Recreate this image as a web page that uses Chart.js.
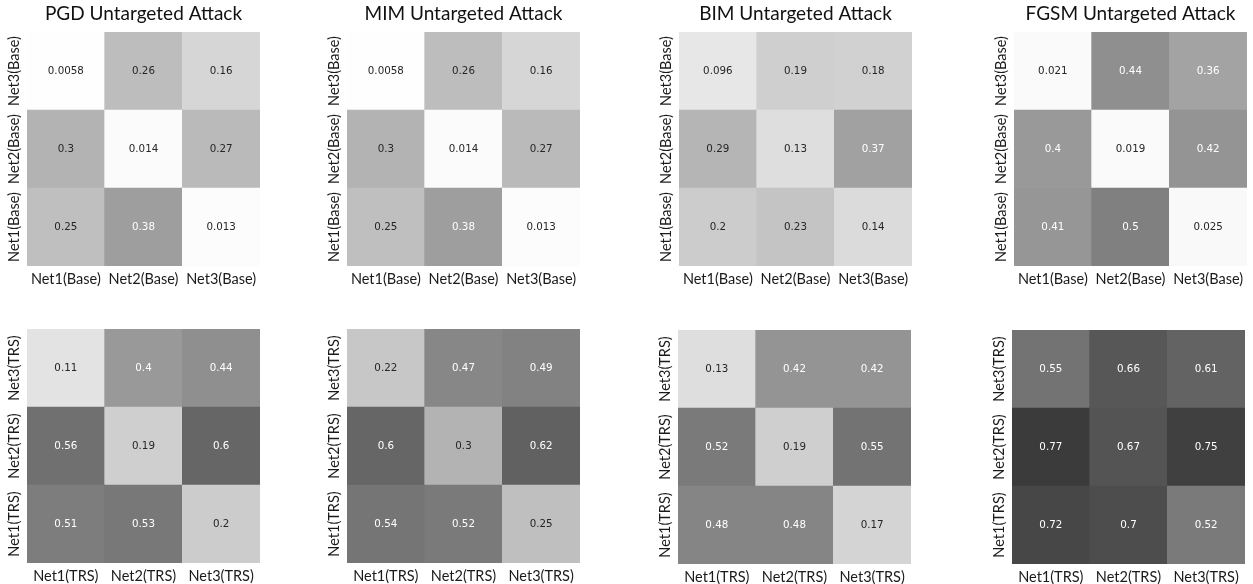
<!DOCTYPE html>
<html>
<head>
<meta charset="utf-8">
<script src="https://cdn.jsdelivr.net/npm/chart.js@4.4.1/dist/chart.umd.min.js"></script>
<style>
  html, body { margin: 0; padding: 0; background: #ffffff; }
  body { width: 1253px; height: 584px; overflow: hidden; position: relative; }
  canvas { position: absolute; }
</style>
</head>
<body>
<script>
// Transfer rates between networks; matrix[i][j] = row Net(i+1), column Net(j+1)
const baseLabels = ['Net1(Base)', 'Net2(Base)', 'Net3(Base)'];
const trsLabels = ['Net1(TRS)', 'Net2(TRS)', 'Net3(TRS)'];
const attackTitles = ['PGD Untargeted Attack', 'MIM Untargeted Attack', 'BIM Untargeted Attack', 'FGSM Untargeted Attack'];

const pgdBase = [[0.25, 0.38, 0.013], [0.3, 0.014, 0.27], [0.0058, 0.26, 0.16]];
const pgdTrs  = [[0.51, 0.53, 0.2], [0.56, 0.19, 0.6], [0.11, 0.4, 0.44]];
const mimBase = [[0.25, 0.38, 0.013], [0.3, 0.014, 0.27], [0.0058, 0.26, 0.16]];
const mimTrs  = [[0.54, 0.52, 0.25], [0.6, 0.3, 0.62], [0.22, 0.47, 0.49]];
const bimBase = [[0.2, 0.23, 0.14], [0.29, 0.13, 0.37], [0.096, 0.19, 0.18]];
const bimTrs  = [[0.48, 0.48, 0.17], [0.52, 0.19, 0.55], [0.13, 0.42, 0.42]];
const fgsmBase = [[0.41, 0.5, 0.025], [0.4, 0.019, 0.42], [0.021, 0.44, 0.36]];
const fgsmTrs  = [[0.72, 0.7, 0.52], [0.77, 0.67, 0.75], [0.55, 0.66, 0.61]];

// Page layout: top-left corner of each heatmap area
const CELL_W = 233, CELL_H = 234;
const AXIS_W = 40, TITLE_H = 32, XAXIS_H = 36;
const panels = [
  { title: attackTitles[0], labels: baseLabels, values: pgdBase,  left: 27,   top: 32 },
  { title: attackTitles[1], labels: baseLabels, values: mimBase,  left: 347,  top: 32 },
  { title: attackTitles[2], labels: baseLabels, values: bimBase,  left: 679,  top: 32 },
  { title: attackTitles[3], labels: baseLabels, values: fgsmBase, left: 1014, top: 32 },
  { title: null, labels: trsLabels, values: pgdTrs,  left: 27,   top: 329 },
  { title: null, labels: trsLabels, values: mimTrs,  left: 347,  top: 329 },
  { title: null, labels: trsLabels, values: bimTrs,  left: 678,  top: 330 },
  { title: null, labels: trsLabels, values: fgsmTrs, left: 1012, top: 330 }
];

const LABEL_FONT = 'Lato, "Open Sans", sans-serif';
const ANNOT_FONT = '"DejaVu Sans", sans-serif';

// Reversed grey map on [0, 1]
function greyOf(v) {
  const g = Math.round(255 * (1 - Math.max(0, Math.min(1, v))));
  return { g, css: `rgb(${g},${g},${g})` };
}
function textColorFor(v) {
  const c = greyOf(v).g / 255;
  const lin = c <= 0.03928 ? c / 12.92 : Math.pow((c + 0.055) / 1.055, 2.4);
  return lin > 0.408 ? '#262626' : '#ffffff';
}
function fmt(v) { return String(Number(v.toPrecision(2))); }

// Title, rotated row labels and cell annotations
const heatText = {
  id: 'heatText',
  afterDatasetsDraw(chart, args, opts) {
    const { ctx, chartArea, scales: { x, y } } = chart;
    const vals = opts.values;
    ctx.save();
    ctx.textAlign = 'center';
    ctx.textBaseline = 'middle';
    ctx.font = `10.3px ${ANNOT_FONT}`;
    for (let i = 0; i < vals.length; i++) {
      for (let j = 0; j < vals[i].length; j++) {
        ctx.fillStyle = textColorFor(vals[i][j]);
        ctx.fillText(fmt(vals[i][j]), x.getPixelForValue(j), y.getPixelForValue(i + 0.5));
      }
    }
    ctx.font = `14.5px ${LABEL_FONT}`;
    ctx.fillStyle = '#1a1a1a';
    for (let i = 0; i < opts.labels.length; i++) {
      ctx.save();
      ctx.translate(chartArea.left - 12.5, y.getPixelForValue(i + 0.5));
      ctx.rotate(-Math.PI / 2);
      ctx.fillText(opts.labels[i], 0, 0);
      ctx.restore();
    }
    if (opts.title) {
      ctx.font = `19px ${LABEL_FONT}`;
      ctx.fillStyle = '#111111';
      ctx.fillText(opts.title, (chartArea.left + chartArea.right) / 2, chartArea.top - 18);
    }
    ctx.restore();
  }
};

panels.forEach(p => {
  const canvas = document.createElement('canvas');
  const w = CELL_W + 2 * AXIS_W;
  const h = CELL_H + TITLE_H + XAXIS_H;
  canvas.width = w; canvas.height = h;
  canvas.style.width = w + 'px'; canvas.style.height = h + 'px';
  canvas.style.left = (p.left - AXIS_W) + 'px';
  canvas.style.top = (p.top - TITLE_H) + 'px';
  document.body.appendChild(canvas);

  // one floating-bar dataset per row, spanning [row, row + 1]
  const datasets = p.values.map((row, i) => ({
    data: row.map(() => [i, i + 1]),
    backgroundColor: row.map(v => greyOf(v).css),
    borderWidth: 0,
    barPercentage: 1,
    categoryPercentage: 1,
    grouped: false
  }));

  new Chart(canvas, {
    type: 'bar',
    data: { labels: p.labels, datasets },
    plugins: [heatText],
    options: {
      responsive: false,
      animation: false,
      devicePixelRatio: 1,
      layout: { padding: { left: 0, right: AXIS_W, top: TITLE_H, bottom: 0 } },
      plugins: {
        legend: { display: false },
        tooltip: { enabled: false },
        title: { display: false },
        heatText: { values: p.values, labels: p.labels, title: p.title }
      },
      scales: {
        x: {
          type: 'category',
          grid: { display: false, drawTicks: false },
          border: { display: false },
          ticks: { color: '#1a1a1a', font: { family: LABEL_FONT, size: 14.5 }, padding: 5, maxRotation: 0, minRotation: 0 },
          afterFit(scale) { scale.height = XAXIS_H; }
        },
        y: {
          type: 'linear',
          min: 0, max: 3,
          grid: { display: false, drawTicks: false },
          border: { display: false },
          ticks: { display: false },
          afterFit(scale) { scale.width = AXIS_W; }
        }
      }
    }
  });
});
</script>
</body>
</html>
